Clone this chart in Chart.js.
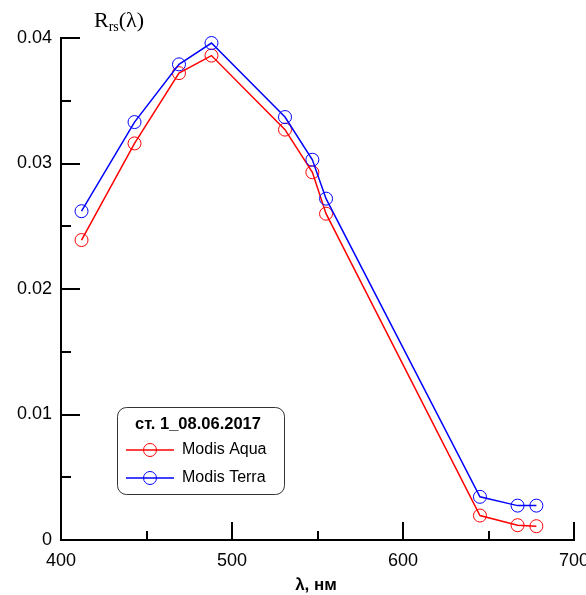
<!DOCTYPE html>
<html>
<head>
<meta charset="utf-8">
<script src="https://cdn.jsdelivr.net/npm/chart.js@4"></script>
<style>
  body { margin: 0; background: #fff; }
  #wrap { width: 586px; height: 595px; }
</style>
</head>
<body>
<div id="wrap"><canvas id="grafico" width="586" height="595"></canvas></div>
<script>
// длины волн MODIS, нм
const lambdas = [412, 443, 469, 488, 531, 547, 555, 645, 667, 678];
const modisAqua = [0.0239, 0.0316, 0.0372, 0.0386, 0.0327, 0.0293, 0.0260, 0.00195, 0.00118, 0.0011];
const modisTerra = [0.0262, 0.0333, 0.0379, 0.0396, 0.0337, 0.0303, 0.0272, 0.00344, 0.00274, 0.00274];
const xMajor = [400, 500, 600, 700];
const xMinor = [450, 550, 650];
const yMajor = [0, 0.01, 0.02, 0.03, 0.04];
const yMinor = [0.005, 0.015, 0.025, 0.035];
const legendTitle = 'ст. 1_08.06.2017';
const seriesNames = ['Modis Aqua', 'Modis Terra'];

const sans = '"Liberation Sans", Arial, sans-serif';
const serif = '"Liberation Serif", "Times New Roman", serif';

function pts(ys) {
  return lambdas.map((x, i) => ({ x: x, y: ys[i] }));
}

// засечки внутрь области графика + подписи осей + легенда
const extras = {
  id: 'extras',
  afterDraw(chart) {
    const ctx = chart.ctx;
    const xs = chart.scales.x, ys = chart.scales.y;
    const a = chart.chartArea;
    ctx.save();
    ctx.strokeStyle = '#000';
    ctx.lineWidth = 2;
    ctx.beginPath();
    xMajor.forEach(v => { const p = Math.round(xs.getPixelForValue(v)); ctx.moveTo(p, a.bottom); ctx.lineTo(p, a.bottom - 18); });
    xMinor.forEach(v => { const p = Math.round(xs.getPixelForValue(v)); ctx.moveTo(p, a.bottom); ctx.lineTo(p, a.bottom - 9); });
    yMajor.forEach(v => { const p = Math.round(ys.getPixelForValue(v)); ctx.moveTo(a.left, p); ctx.lineTo(a.left + 19, p); });
    yMinor.forEach(v => { const p = Math.round(ys.getPixelForValue(v)); ctx.moveTo(a.left, p); ctx.lineTo(a.left + 10, p); });
    ctx.stroke();

    // заголовок оси Y: R_rs(λ)
    ctx.fillStyle = '#000';
    ctx.textBaseline = 'alphabetic';
    ctx.textAlign = 'left';
    ctx.font = '22px ' + serif;
    let x0 = 94;
    ctx.fillText('R', x0, 27);
    x0 += ctx.measureText('R').width;
    ctx.font = '14px ' + serif;
    ctx.fillText('rs', x0, 31);
    x0 += ctx.measureText('rs').width;
    ctx.font = '22px ' + serif;
    ctx.fillText('(λ)', x0, 27);

    // заголовок оси X
    ctx.font = 'bold 17px ' + sans;
    ctx.textAlign = 'center';
    ctx.fillText('λ, нм', 316, 590);

    // легенда
    const bx = 117, by = 407, bw = 167, bh = 87;
    ctx.lineWidth = 1;
    ctx.strokeStyle = '#333';
    ctx.beginPath();
    ctx.roundRect(bx + 0.5, by + 0.5, bw, bh, 9);
    ctx.stroke();
    ctx.font = 'bold 16.5px ' + sans;
    ctx.textAlign = 'center';
    ctx.fillText(legendTitle, 198, 429);
    const rowY = [450, 478];
    chart.data.datasets.forEach((ds, i) => {
      const y = rowY[i];
      ctx.strokeStyle = ds.borderColor;
      ctx.lineWidth = 1.5;
      ctx.beginPath();
      ctx.moveTo(126, y); ctx.lineTo(174, y);
      ctx.stroke();
      ctx.lineWidth = 1;
      ctx.beginPath();
      ctx.arc(150, y, 6.5, 0, Math.PI * 2);
      ctx.stroke();
      ctx.fillStyle = '#000';
      ctx.font = '16px ' + sans;
      ctx.textAlign = 'left';
      ctx.textBaseline = 'middle';
      ctx.fillText(seriesNames[i], 182, y);
    });
    ctx.restore();
  }
};

const ctx = document.getElementById('grafico').getContext('2d');
new Chart(ctx, {
  type: 'line',
  data: {
    datasets: [
      {
        label: seriesNames[0],
        data: pts(modisAqua),
        borderColor: '#ff0000',
        borderWidth: 1.5,
        pointRadius: 6.5,
        pointBorderWidth: 1,
        pointBorderColor: '#ff0000',
        pointBackgroundColor: 'rgba(0,0,0,0)',
        fill: false,
        tension: 0,
        clip: false,
        order: 1
      },
      {
        label: seriesNames[1],
        data: pts(modisTerra),
        borderColor: '#0000ff',
        borderWidth: 1.5,
        pointRadius: 6.5,
        pointBorderWidth: 1,
        pointBorderColor: '#0000ff',
        pointBackgroundColor: 'rgba(0,0,0,0)',
        fill: false,
        tension: 0,
        clip: false,
        order: 0
      }
    ]
  },
  options: {
    responsive: false,
    devicePixelRatio: 1,
    animation: false,
    layout: { padding: { top: 38, right: 12, left: 0, bottom: 0 } },
    plugins: {
      legend: { display: false },
      tooltip: { enabled: false }
    },
    scales: {
      x: {
        type: 'linear',
        min: 400,
        max: 700,
        afterBuildTicks(s) { s.ticks = xMajor.map(v => ({ value: v })); },
        afterFit(s) { s.height = 55; s.paddingLeft = 0; s.paddingRight = 0; },
        ticks: {
          color: '#000',
          padding: 10,
          maxRotation: 0,
          font: { family: sans, size: 18 }
        },
        grid: { display: false, drawTicks: false },
        border: { color: '#000', width: 2 }
      },
      y: {
        min: 0,
        max: 0.04,
        afterBuildTicks(s) { s.ticks = yMajor.map(v => ({ value: v })); },
        afterFit(s) { s.width = 61; s.paddingTop = 0; s.paddingBottom = 0; },
        ticks: {
          color: '#000',
          padding: 9,
          font: { family: sans, size: 18 },
          callback: v => (v === 0 ? '0' : v.toFixed(2))
        },
        grid: { display: false, drawTicks: false },
        border: { color: '#000', width: 2 }
      }
    }
  },
  plugins: [extras]
});
</script>
</body>
</html>
